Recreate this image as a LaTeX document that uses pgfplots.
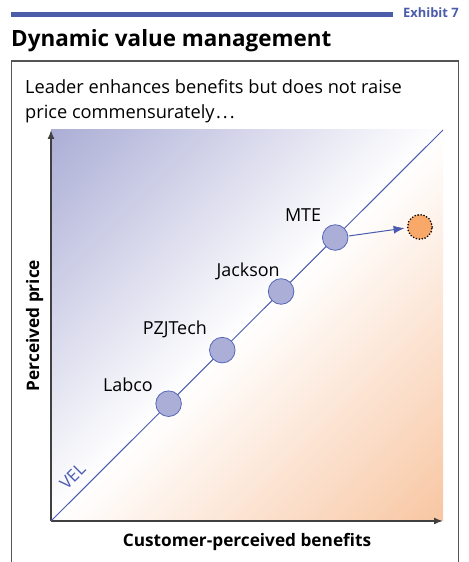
\documentclass[border=0pt]{standalone}
\usepackage{pgfplots}
\pgfplotsset{compat=1.18}
\usepackage{fontspec}
\setmainfont{Open Sans}
\usetikzlibrary{arrows.meta}
\definecolor{barblue}{HTML}{4A5CAA}
\definecolor{lineblue}{HTML}{4A5AB0}
\definecolor{lav}{HTML}{ACAED6}
\definecolor{peach}{HTML}{F8C6A2}
\definecolor{ptfill}{HTML}{ABAFD8}
\definecolor{ptdraw}{HTML}{5566B8}
\definecolor{orangept}{HTML}{F8A868}
\definecolor{boxgray}{HTML}{555555}
\pgfdeclareverticalshading{velshade}{100bp}{color(0bp)=(peach); color(14.6bp)=(peach); color(50bp)=(white); color(85.4bp)=(lav); color(100bp)=(lav)}
\begin{document}
\begin{tikzpicture}[x=1bp,y=1bp]
\useasboundingbox (0,0) rectangle (469,562);
% top bar and exhibit
\fill[barblue] (11,544.7) rectangle (393,550);
\node[anchor=base east, inner sep=0, text=barblue, font=\fontsize{13}{15}\selectfont\bfseries] at (459,544.3) {Exhibit 7};
\node[anchor=base west, inner sep=0, font=\fontsize{22.5}{26}\selectfont\bfseries] at (11,515.3) {Dynamic value management};
% box
\draw[boxgray, line width=1.3bp] (11.5,0) -- (11.5,501) -- (458.5,501) -- (458.5,0);
\node[anchor=base west, inner sep=0, font=\fontsize{18.3}{22}\selectfont] at (25,468.7) {Leader enhances benefits but does not raise};
\node[anchor=base west, inner sep=0, font=\fontsize{18.3}{22}\selectfont] at (25,443) {price commensurately\kern1.5pt.\kern2pt.\kern2pt.};
\begin{axis}[
  at={(51bp,41bp)}, anchor=origin,
  scale only axis, width=392bp, height=391bp,
  xmin=0, xmax=1, ymin=0, ymax=1,
  axis x line=bottom, axis y line=left,
  axis line style={line width=1.5bp, draw=black!75, -{Latex[length=9bp,width=7bp]}},
  xtick=\empty, ytick=\empty,
  clip=false,
  axis background/.style={shade, shading=velshade, shading angle=45},
  xlabel={\bfseries Customer-perceived benefits},
  ylabel={\bfseries Perceived price},
  label style={font=\fontsize{17.3}{20}\selectfont},
  xlabel style={at={(axis description cs:0.5,0)}, anchor=base, yshift=-26bp},
  ylabel style={at={(axis description cs:0,0.5)}, anchor=base, yshift=12bp},
]
\addplot[lineblue, line width=1bp] coordinates {(0,0) (1,1)};
\addplot[lineblue, line width=1bp, -{Latex[length=11bp,width=8bp]}] coordinates {(0.76,0.729) (0.902,0.749)};
\addplot[only marks, mark=*, mark size=12.8bp, mark options={fill=ptfill, draw=ptdraw, line width=0.8bp}] coordinates {(0.3,0.3) (0.437,0.437) (0.587,0.587) (0.725,0.725)};
\addplot[only marks, mark=*, mark size=12.3bp, mark options={fill=orangept, draw=black, line width=1.8bp, dash pattern=on 0bp off 3bp, line cap=round}] coordinates {(0.941,0.752)};
\node[font=\fontsize{18}{20}\selectfont] at (axis cs:0.196,0.348) {Labco};
\node[font=\fontsize{18}{20}\selectfont] at (axis cs:0.316,0.491) {PZJTech};
\node[font=\fontsize{18}{20}\selectfont] at (axis cs:0.503,0.639) {Jackson};
\node[font=\fontsize{18}{20}\selectfont] at (axis cs:0.643,0.783) {MTE};
\node[rotate=45, text=lineblue, font=\fontsize{17}{19}\selectfont, inner sep=1pt] at (axis cs:0.055,0.115) {VEL};
\end{axis}
\end{tikzpicture}
\end{document}
